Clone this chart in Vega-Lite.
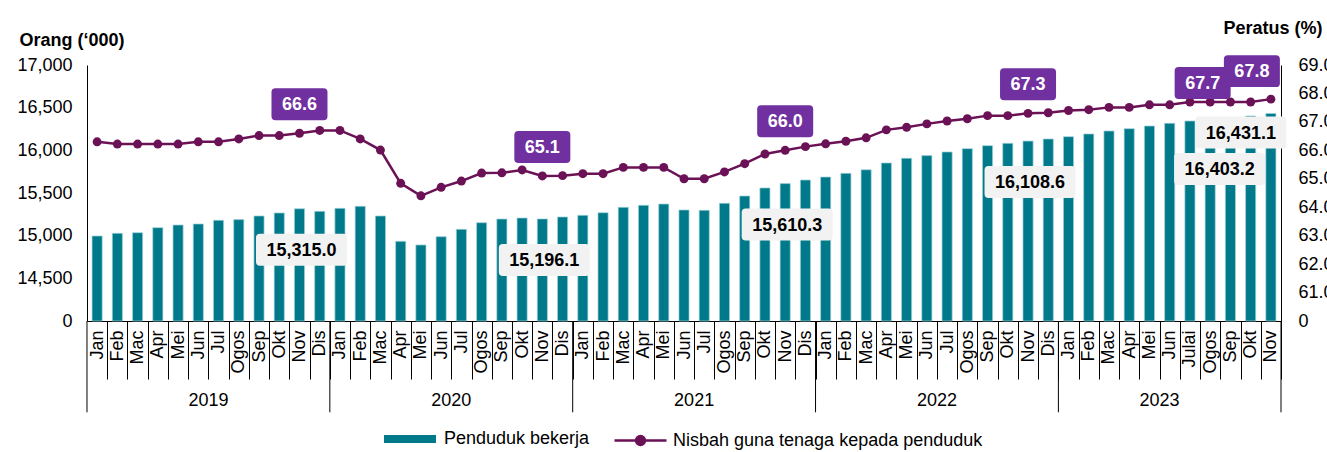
{
  "$schema": "https://vega.github.io/schema/vega-lite/v6.json",
  "width": 1194,
  "height": 256,
  "autosize": "none",
  "padding": {"left": 87, "top": 65, "right": 46, "bottom": 131},
  "config": {
    "font": "Liberation Sans",
    "view": {"stroke": null},
    "axis": {"labelColor": "#000", "titleColor": "#000", "grid": false},
    "legend": {"labelColor": "#000", "labelLimit": 500}
  },
  "data": {
    "values": [
      {"d": "2019-01", "emp": 14996, "r": 66.3},
      {"d": "2019-02", "emp": 15027, "r": 66.22},
      {"d": "2019-03", "emp": 15035, "r": 66.22},
      {"d": "2019-04", "emp": 15094, "r": 66.22},
      {"d": "2019-05", "emp": 15125, "r": 66.22},
      {"d": "2019-06", "emp": 15137, "r": 66.3},
      {"d": "2019-07", "emp": 15180, "r": 66.3},
      {"d": "2019-08", "emp": 15188, "r": 66.4},
      {"d": "2019-09", "emp": 15231, "r": 66.52},
      {"d": "2019-10", "emp": 15266, "r": 66.52},
      {"d": "2019-11", "emp": 15315.0, "r": 66.6},
      {"d": "2019-12", "emp": 15285, "r": 66.7},
      {"d": "2020-01", "emp": 15320, "r": 66.7},
      {"d": "2020-02", "emp": 15344, "r": 66.4},
      {"d": "2020-03", "emp": 15231, "r": 66.01},
      {"d": "2020-04", "emp": 14934, "r": 64.84},
      {"d": "2020-05", "emp": 14891, "r": 64.4},
      {"d": "2020-06", "emp": 14988, "r": 64.7},
      {"d": "2020-07", "emp": 15074, "r": 64.92},
      {"d": "2020-08", "emp": 15152, "r": 65.2},
      {"d": "2020-09", "emp": 15195, "r": 65.21},
      {"d": "2020-10", "emp": 15207, "r": 65.31},
      {"d": "2020-11", "emp": 15196.1, "r": 65.1},
      {"d": "2020-12", "emp": 15219, "r": 65.11},
      {"d": "2021-01", "emp": 15238, "r": 65.18},
      {"d": "2021-02", "emp": 15269, "r": 65.18},
      {"d": "2021-03", "emp": 15332, "r": 65.4},
      {"d": "2021-04", "emp": 15356, "r": 65.4},
      {"d": "2021-05", "emp": 15371, "r": 65.4},
      {"d": "2021-06", "emp": 15301, "r": 65.0},
      {"d": "2021-07", "emp": 15297, "r": 65.0},
      {"d": "2021-08", "emp": 15379, "r": 65.24},
      {"d": "2021-09", "emp": 15465, "r": 65.53},
      {"d": "2021-10", "emp": 15559, "r": 65.87},
      {"d": "2021-11", "emp": 15610.3, "r": 66.0},
      {"d": "2021-12", "emp": 15652, "r": 66.13},
      {"d": "2022-01", "emp": 15687, "r": 66.23},
      {"d": "2022-02", "emp": 15730, "r": 66.32},
      {"d": "2022-03", "emp": 15772, "r": 66.44},
      {"d": "2022-04", "emp": 15852, "r": 66.72},
      {"d": "2022-05", "emp": 15907, "r": 66.81},
      {"d": "2022-06", "emp": 15938, "r": 66.93},
      {"d": "2022-07", "emp": 15981, "r": 67.03},
      {"d": "2022-08", "emp": 16020, "r": 67.11},
      {"d": "2022-09", "emp": 16055, "r": 67.22},
      {"d": "2022-10", "emp": 16082, "r": 67.22},
      {"d": "2022-11", "emp": 16108.6, "r": 67.3},
      {"d": "2022-12", "emp": 16133, "r": 67.32},
      {"d": "2023-01", "emp": 16160, "r": 67.4},
      {"d": "2023-02", "emp": 16192, "r": 67.43},
      {"d": "2023-03", "emp": 16227, "r": 67.51},
      {"d": "2023-04", "emp": 16254, "r": 67.51},
      {"d": "2023-05", "emp": 16285, "r": 67.6},
      {"d": "2023-06", "emp": 16317, "r": 67.6},
      {"d": "2023-07", "emp": 16344, "r": 67.7},
      {"d": "2023-08", "emp": 16362, "r": 67.7},
      {"d": "2023-09", "emp": 16382, "r": 67.7},
      {"d": "2023-10", "emp": 16403.2, "r": 67.7},
      {"d": "2023-11", "emp": 16431.1, "r": 67.8}
    ]
  },
  "resolve": {"scale": {"y": "independent"}},
  "layer": [
    {
      "layer": [
        {
          "mark": {"type": "bar", "stroke": "#9fd3da", "strokeWidth": 0.7},
          "encoding": {
            "x": {
              "field": "d", "type": "ordinal",
              "scale": {"paddingInner": 0.5, "paddingOuter": 0.25},
              "axis": {
                "orient": "bottom", "title": null,
                "labelAngle": 270, "labelAlign": "right", "labelBaseline": "middle",
                "labelFontSize": 18, "labelPadding": -49, "labelOverlap": false, "labelOffset": -10.12,
                "labelExpr": "datum.value=='2023-07'?'Julai':['Jan','Feb','Mac','Apr','Mei','Jun','Jul','Ogos','Sep','Okt','Nov','Dis'][toNumber(slice(datum.value,5))-1]",
                "tickSize": 58, "tickOffset": 10.12, "tickColor": "#000", "tickWidth": 1,
                "domainColor": "#000", "domainWidth": 1
              }
            },
            "y": {
              "field": "emp", "type": "quantitative",
              "scale": {"domain": [14000, 17000], "zero": false, "nice": false},
              "axis": {
                "orient": "left",
                "title": "Orang (‘000)", "titleAngle": 0, "titleAlign": "left", "titleBaseline": "alphabetic",
                "titleX": -68, "titleY": -20, "titleFontSize": 18, "titleFontWeight": "bold",
                "values": [14000, 14500, 15000, 15500, 16000, 16500, 17000],
                "labelExpr": "datum.value==14000?'0':format(datum.value, ',')",
                "ticks": false, "labelPadding": 15, "labelFontSize": 18, "labelOverlap": false,
                "domainColor": "#000", "domainWidth": 1
              }
            },
            "y2": {"datum": 14000},
            "fill": {
              "datum": "Penduduk bekerja",
              "scale": {"range": ["#007A8A"]},
              "legend": {
                "title": null, "orient": "none", "legendX": 297, "legendY": 348,
                "symbolType": "M-1,-0.15L1,-0.15L1,0.15L-1,0.15Z", "symbolSize": 2704,
                "symbolStrokeWidth": 0, "labelFontSize": 18, "labelOffset": 8, "padding": 0, "labelLimit": 500
              }
            }
          }
        },
        {
          "data": {"values": [
            {"yr": "2019", "at": "2019-06"},
            {"yr": "2020", "at": "2020-06"},
            {"yr": "2021", "at": "2021-06"},
            {"yr": "2022", "at": "2022-06"},
            {"yr": "2023", "at": "2023-05"}
          ]},
          "mark": {"type": "text", "fontSize": 18, "color": "#000", "align": "center", "baseline": "middle", "xOffset": 10.12},
          "encoding": {
            "x": {"field": "at", "type": "ordinal"},
            "y": {"datum": 13060},
            "text": {"field": "yr", "type": "nominal"}
          }
        },
        {
          "data": {"values": [
            {"b": "2019-12"}, {"b": "2020-12"}, {"b": "2021-12"}, {"b": "2022-12"}, {"b": "2023-11"}
          ]},
          "mark": {"type": "rule", "color": "#000", "strokeWidth": 1, "xOffset": 10.12},
          "encoding": {
            "x": {"field": "b", "type": "ordinal"},
            "y": {"datum": 14000},
            "y2": {"datum": 12930}
          }
        },
        {
          "data": {"values": [{"b": "2019-01"}]},
          "mark": {"type": "rule", "color": "#000", "strokeWidth": 1, "xOffset": -10.12},
          "encoding": {
            "x": {"field": "b", "type": "ordinal"},
            "y": {"datum": 14000},
            "y2": {"datum": 12930}
          }
        },
        {
          "transform": [{"filter": "slice(datum.d,5)=='11' && datum.d < '2023'"}],
          "encoding": {
            "x": {"field": "d", "type": "ordinal"},
            "y": {"field": "emp", "type": "quantitative"}
          },
          "layer": [
            {
              "mark": {
                "type": "point", "filled": true, "opacity": 1, "fill": "#F2F2F2", "strokeWidth": 0,
                "shape": "M-0.912,-0.352L0.912,-0.352Q1,-0.352,1,-0.264L1,0.264Q1,0.352,0.912,0.352L-0.912,0.352Q-1,0.352,-1,0.264L-1,-0.264Q-1,-0.352,-0.912,-0.352Z",
                "size": 8281, "xOffset": 2, "yOffset": 41
              },
              "encoding": {}
            },
            {
              "mark": {"type": "text", "fontSize": 18, "fontWeight": "bold", "color": "#000", "align": "center", "baseline": "middle", "xOffset": 2, "yOffset": 42},
              "encoding": {"text": {"field": "emp", "type": "quantitative", "format": ",.1f"}}
            }
          ]
        },
        {
          "transform": [{"filter": "datum.d=='2023-10'"}],
          "encoding": {
            "x": {"field": "d", "type": "ordinal"},
            "y": {"field": "emp", "type": "quantitative"}
          },
          "layer": [
            {
              "mark": {
                "type": "point", "filled": true, "opacity": 1, "fill": "#F2F2F2", "strokeWidth": 0,
                "shape": "M-0.912,-0.352L0.912,-0.352Q1,-0.352,1,-0.264L1,0.264Q1,0.352,0.912,0.352L-0.912,0.352Q-1,0.352,-1,0.264L-1,-0.264Q-1,-0.352,-0.912,-0.352Z",
                "size": 8281, "xOffset": -31, "yOffset": 53
              },
              "encoding": {}
            },
            {
              "mark": {"type": "text", "fontSize": 18, "fontWeight": "bold", "color": "#000", "align": "center", "baseline": "middle", "xOffset": -31, "yOffset": 54},
              "encoding": {"text": {"field": "emp", "type": "quantitative", "format": ",.1f"}}
            }
          ]
        },
        {
          "transform": [{"filter": "datum.d=='2023-11'"}],
          "encoding": {
            "x": {"field": "d", "type": "ordinal"},
            "y": {"field": "emp", "type": "quantitative"}
          },
          "layer": [
            {
              "mark": {
                "type": "point", "filled": true, "opacity": 1, "fill": "#F2F2F2", "strokeWidth": 0,
                "shape": "M-0.912,-0.352L0.912,-0.352Q1,-0.352,1,-0.264L1,0.264Q1,0.352,0.912,0.352L-0.912,0.352Q-1,0.352,-1,0.264L-1,-0.264Q-1,-0.352,-0.912,-0.352Z",
                "size": 8281, "xOffset": -30, "yOffset": 19
              },
              "encoding": {}
            },
            {
              "mark": {"type": "text", "fontSize": 18, "fontWeight": "bold", "color": "#000", "align": "center", "baseline": "middle", "xOffset": -30, "yOffset": 20},
              "encoding": {"text": {"field": "emp", "type": "quantitative", "format": ",.1f"}}
            }
          ]
        }
      ]
    },
    {
      "encoding": {
        "x": {"field": "d", "type": "ordinal"},
        "y": {
          "field": "r", "type": "quantitative",
          "scale": {"domain": [60, 69], "zero": false, "nice": false},
          "axis": {
            "orient": "right",
            "title": "Peratus (%)", "titleAngle": 0, "titleAlign": "left", "titleBaseline": "alphabetic",
            "titleX": -58, "titleY": -32, "titleFontSize": 18, "titleFontWeight": "bold",
            "values": [60, 61, 62, 63, 64, 65, 66, 67, 68, 69],
            "labelExpr": "datum.value==60?'0':format(datum.value, '.1f')",
            "ticks": false, "labelPadding": 17, "labelFontSize": 18, "labelOverlap": false,
            "domainColor": "#000", "domainWidth": 1
          }
        }
      },
      "layer": [
        {
          "mark": {"type": "line", "strokeWidth": 2.5},
          "encoding": {
            "stroke": {
              "datum": "Nisbah guna tenaga kepada penduduk",
              "scale": {"range": ["#6B1156"]},
              "legend": {
                "title": null, "orient": "none", "legendX": 526, "legendY": 348,
                "symbolType": "M-1,0L1,0M0.17,0A0.17,0.17,0,1,1,-0.17,0A0.17,0.17,0,1,1,0.17,0Z",
                "symbolSize": 2704, "symbolStrokeWidth": 2.5, "symbolFillColor": "#6B1156",
                "labelFontSize": 18, "labelOffset": 5, "padding": 0, "labelLimit": 500
              }
            }
          }
        },
        {
          "mark": {"type": "point", "filled": true, "opacity": 1, "size": 80, "color": "#6B1156"},
          "encoding": {}
        },
        {
          "transform": [{"filter": "slice(datum.d,5)=='11' && datum.d < '2023'"}],
          "layer": [
            {
              "mark": {
                "type": "point", "filled": true, "opacity": 1, "fill": "#7030A0", "strokeWidth": 0,
                "shape": "M-0.857,-0.571L0.857,-0.571Q1,-0.571,1,-0.429L1,0.429Q1,0.571,0.857,0.571L-0.857,0.571Q-1,0.571,-1,0.429L-1,-0.429Q-1,-0.571,-0.857,-0.571Z",
                "size": 3136, "yOffset": -29
              },
              "encoding": {}
            },
            {
              "mark": {"type": "text", "fontSize": 18, "fontWeight": "bold", "color": "#fff", "align": "center", "baseline": "middle", "yOffset": -28},
              "encoding": {"text": {"field": "r", "type": "quantitative", "format": ".1f"}}
            }
          ]
        },
        {
          "transform": [{"filter": "datum.d=='2023-10'"}],
          "layer": [
            {
              "mark": {
                "type": "point", "filled": true, "opacity": 1, "fill": "#7030A0", "strokeWidth": 0,
                "shape": "M-0.857,-0.571L0.857,-0.571Q1,-0.571,1,-0.429L1,0.429Q1,0.571,0.857,0.571L-0.857,0.571Q-1,0.571,-1,0.429L-1,-0.429Q-1,-0.571,-0.857,-0.571Z",
                "size": 3136, "xOffset": -48, "yOffset": -19
              },
              "encoding": {}
            },
            {
              "mark": {"type": "text", "fontSize": 18, "fontWeight": "bold", "color": "#fff", "align": "center", "baseline": "middle", "xOffset": -48, "yOffset": -18},
              "encoding": {"text": {"field": "r", "type": "quantitative", "format": ".1f"}}
            }
          ]
        },
        {
          "transform": [{"filter": "datum.d=='2023-11'"}],
          "layer": [
            {
              "mark": {
                "type": "point", "filled": true, "opacity": 1, "fill": "#7030A0", "strokeWidth": 0,
                "shape": "M-0.857,-0.571L0.857,-0.571Q1,-0.571,1,-0.429L1,0.429Q1,0.571,0.857,0.571L-0.857,0.571Q-1,0.571,-1,0.429L-1,-0.429Q-1,-0.571,-0.857,-0.571Z",
                "size": 3136, "xOffset": -19, "yOffset": -28
              },
              "encoding": {}
            },
            {
              "mark": {"type": "text", "fontSize": 18, "fontWeight": "bold", "color": "#fff", "align": "center", "baseline": "middle", "xOffset": -19, "yOffset": -27},
              "encoding": {"text": {"field": "r", "type": "quantitative", "format": ".1f"}}
            }
          ]
        }
      ]
    }
  ]
}
